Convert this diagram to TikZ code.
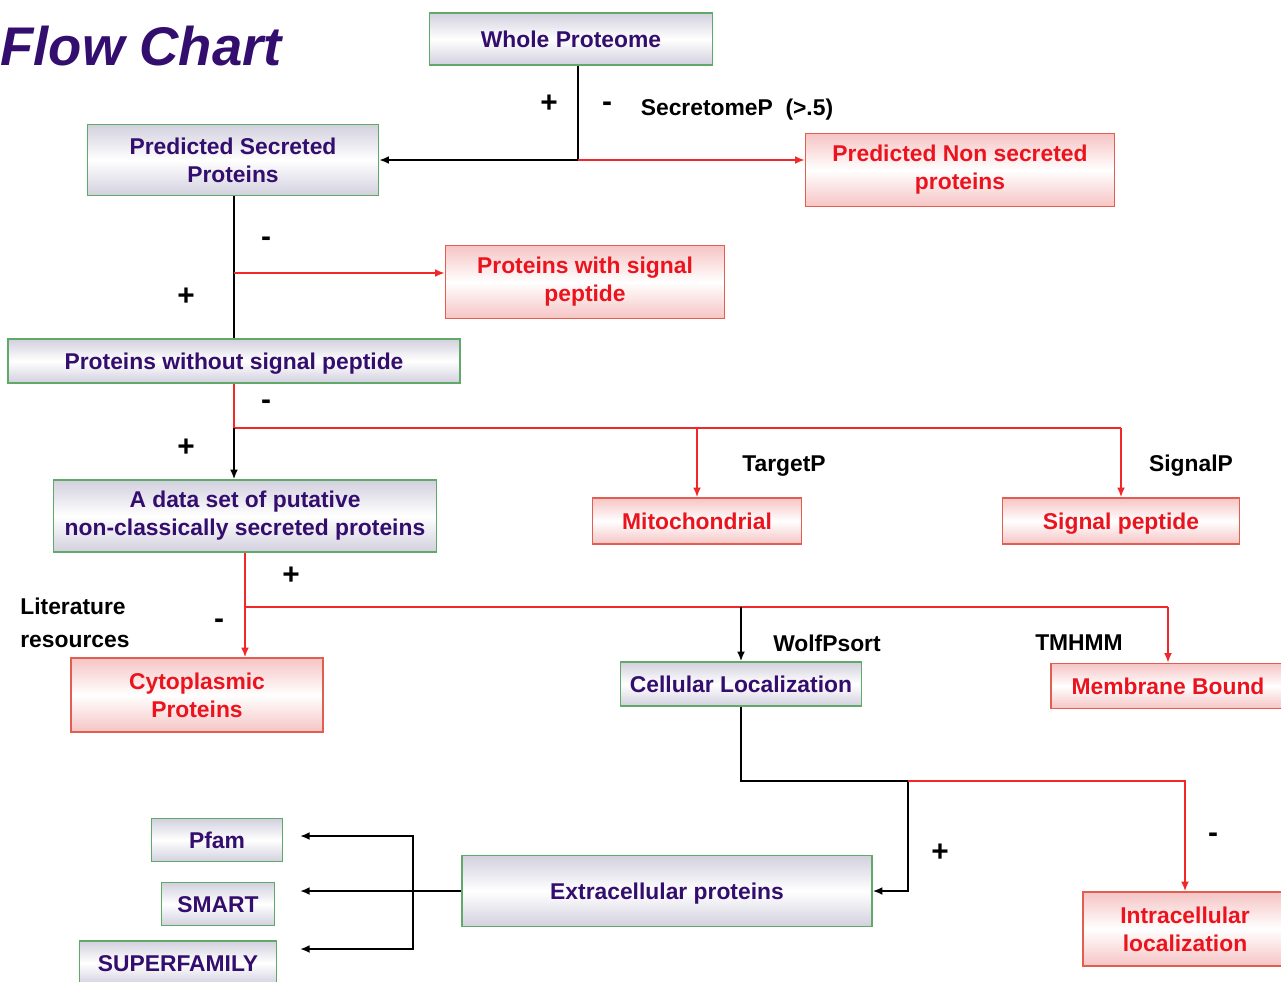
\documentclass[tikz,border=0pt]{standalone}
\usepackage{fontspec}
\setsansfont{Liberation Sans}
\usetikzlibrary{arrows.meta}

\definecolor{cor_roxo}{RGB}{52,14,110}
\definecolor{cor_texto_verm}{RGB}{235,20,30}
\definecolor{cor_borda_verde}{RGB}{95,170,105}
\definecolor{cor_borda_verm}{RGB}{225,95,80}
\definecolor{cor_linha_verm}{RGB}{240,40,40}
\definecolor{cor_fundo_verde}{RGB}{210,208,222}
\definecolor{cor_fundo_verm}{RGB}{246,196,196}

\begin{document}
\begin{tikzpicture}[x=0.02cm, y=-0.02cm]
        \tikzset{
            caixa/.style 2 args={
                draw,
                line width=0.8pt,
                align=center,
                inner sep=0pt,
                minimum width=#1*0.02cm,
                minimum height=#2*0.02cm,
                font=\sffamily\bfseries\fontsize{13}{16}\selectfont
            },
            uma/.style={text height=11pt, text depth=1.5pt},
            verde/.style={draw=cor_borda_verde, top color=cor_fundo_verde, bottom color=cor_fundo_verde, middle color=white, text=cor_roxo},
            verm/.style={draw=cor_borda_verm, top color=cor_fundo_verm, bottom color=cor_fundo_verm, middle color=white, text=cor_texto_verm},
            rotulo/.style={font=\sffamily\bfseries\fontsize{13}{16}\selectfont, inner sep=0pt},
            sinal/.style={font=\sffamily\bfseries\fontsize{17}{17}\selectfont, inner sep=0pt},
            preta/.style={draw=black, line width=1.1pt},
            vermelha/.style={draw=cor_linha_verm, line width=1.1pt},
            seta/.style={-{Latex[length=5.5pt,width=4.5pt]}}
        }
        \useasboundingbox (0,0) rectangle (1281,981);

        \node[anchor=west, inner sep=0pt, text=cor_roxo, font=\sffamily\bfseries\itshape\fontsize{31}{31}\selectfont] (titulo) at (0,46) {Flow Chart};

        %CAIXAS
        \node[caixa={283}{52}, verde, uma] (wp) at (571,39) {Whole Proteome};
        \node[caixa={291}{71}, verde] (pss) at (233,160) {Predicted Secreted\\Proteins};
        \node[caixa={309}{73}, verm] (pns) at (960,170) {Predicted Non secreted\\proteins};
        \node[caixa={279}{73}, verm] (pcs) at (585,282) {Proteins with signal\\peptide};
        \node[caixa={452}{44}, verde, uma] (pws) at (234,361) {Proteins without signal peptide};
        \node[caixa={383}{72}, verde] (dados) at (245,516) {A data set of putative\\non-classically secreted proteins};
        \node[caixa={209}{46}, verm, uma] (mit) at (697,521) {Mitochondrial};
        \node[caixa={237}{46}, verm, uma] (sp) at (1121,521) {Signal peptide};
        \node[caixa={252}{74}, verm] (cito) at (197,695) {Cytoplasmic\\Proteins};
        \node[caixa={241}{44}, verde, uma] (cl) at (741,684) {Cellular Localization};
        \node[caixa={234}{45}, verm, uma] (mb) at (1168,686) {Membrane Bound};
        \node[caixa={131}{43}, verde, uma] (pfam) at (217,840) {Pfam};
        \node[caixa={113}{43}, verde, uma] (smart) at (218,904) {SMART};
        \node[caixa={197}{44}, verde, uma] (superf) at (178,963) {SUPERFAMILY};
        \node[caixa={410}{71}, verde, uma] (ext) at (667,891) {Extracellular proteins};
        \node[caixa={204}{74}, verm] (intra) at (1185,929) {Intracellular\\localization};

        %PONTOS DE JUNCAO
        \coordinate (j1) at (578,160);
        \coordinate (j2) at (234,273);
        \coordinate (j3) at (234,428);
        \coordinate (j4) at (245,607);
        \coordinate (j6) at (908,781);
        \coordinate (j7) at (413,891);
        \coordinate (a1) at (300,836);
        \coordinate (a2) at (300,891);
        \coordinate (a3) at (300,949);

        %LIGACOES
        \draw[preta] (wp.south -| j1) -- (j1);
        \draw[preta, seta] (j1) -- (pss.east);
        \draw[vermelha, seta] (j1) -- (pns.west |- j1);

        \draw[preta] (pss.south -| pws.north) -- (pws.north);
        \draw[vermelha, seta] (j2) -- (pcs.west |- j2);

        \draw[vermelha] (pws.south) -- (j3) -- (sp.north |- j3);
        \draw[vermelha, seta] (mit.north |- j3) -- (mit.north);
        \draw[vermelha, seta] (sp.north |- j3) -- (sp.north);
        \draw[preta, seta] (j3) -- (j3 |- dados.north);

        \draw[vermelha] (dados.south -| j4) -- (j4) -- (mb.north |- j4);
        \draw[vermelha, seta] (j4) -- (j4 |- cito.north);
        \draw[vermelha, seta] (mb.north |- j4) -- (mb.north);
        \draw[preta, seta] (cl.north |- j4) -- (cl.north);

        \draw[preta, seta] (cl.south) |- (j6) |- (ext.east);
        \draw[vermelha, seta] (j6) -| (intra.north);

        \draw[preta, seta] (ext.west) -- (a2);
        \draw[preta, seta] (j7) |- (a1);
        \draw[preta, seta] (j7) |- (a3);

        %ROTULOS
        \node[sinal] (mais1) at (549,104) {+};
        \node[sinal] (menos1) at (607,107) {-};
        \node[rotulo] (secretome) at (737,110) {SecretomeP~~(>.5)};
        \node[sinal] (menos2) at (266,242) {-};
        \node[sinal] (mais2) at (186,297) {+};
        \node[sinal] (menos3) at (266,405) {-};
        \node[sinal] (mais3) at (186,448) {+};
        \node[rotulo] (targetp) at (784,466) {TargetP};
        \node[rotulo] (signalp) at (1191,466) {SignalP};
        \node[sinal] (mais4) at (291,576) {+};
        \node[sinal] (menos4) at (219,624) {-};
        \node[rotulo, anchor=west, align=left, font=\sffamily\bfseries\fontsize{13}{18.7}\selectfont] (literatura) at (20,623) {Literature\\resources};
        \node[rotulo] (wolfpsort) at (827,643) {WolfPsort};
        \node[rotulo] (tmhmm) at (1079,643) {TMHMM};
        \node[sinal] (mais5) at (940,853) {+};
        \node[sinal] (menos5) at (1213,838) {-};

\end{tikzpicture}
\end{document}
